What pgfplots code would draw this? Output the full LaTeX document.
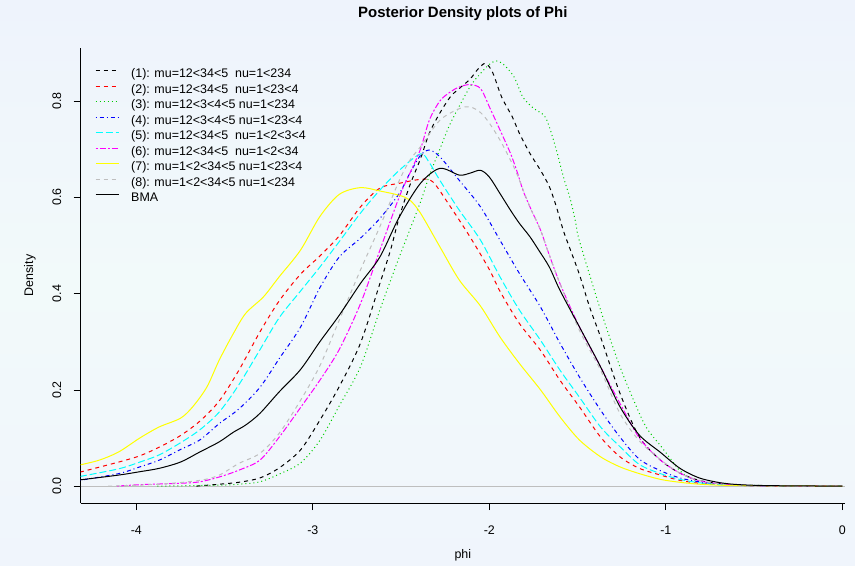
\documentclass[border=0pt]{standalone}
\usepackage{fontspec}
\setmainfont{Liberation Sans}
\usepackage{pgfplots}
\pgfplotsset{compat=1.18}

\definecolor{rgreen}{RGB}{0,205,0}
\definecolor{rgray}{RGB}{190,190,190}
\definecolor{rred}{RGB}{255,0,0}
\definecolor{rblue}{RGB}{0,0,255}
\definecolor{rcyan}{RGB}{0,255,255}
\definecolor{rmagenta}{RGB}{255,0,255}
\definecolor{ryellow}{RGB}{255,255,0}
\definecolor{bgtop}{RGB}{238,243,252}
\definecolor{bgmid}{RGB}{242,250,250}
\definecolor{bgbot}{RGB}{240,245,252}

\begin{document}
\begin{tikzpicture}
% page background, 855 x 566 bp, axis box at (0,0)
\shade[top color=bgtop, bottom color=bgbot, middle color=bgmid]
  (-80.7bp,-63bp) rectangle (774.3bp,503bp);
\begin{axis}[
  at={(0,0)}, anchor=south west,
  scale only axis, width=764.3bp, height=455bp,
  xmin=-4.315, xmax=0.015, ymin=-0.035, ymax=0.91,
  axis lines=left,
  axis line style={-, line width=0.7bp},
  tick align=outside, major tick length=7bp,
  tick style={black, line width=0.7bp},
  xtick={-4,-3,-2,-1,0},
  ytick={0,0.2,0.4,0.6,0.8},
  font=\fontsize{12.5}{15}\selectfont,
  /pgf/number format/assume math mode=true,
  xticklabel shift=12bp,
  yticklabel shift=9bp,
  yticklabel style={rotate=90, anchor=south,
    /pgf/number format/.cd, fixed, fixed zerofill, precision=1},
  title={Posterior Density plots of Phi},
  title style={at={(axis description cs:0.5,1.0615)}, anchor=center,
    font=\fontsize{15}{18}\selectfont\bfseries},
  xlabel={phi},
  xlabel style={at={(axis description cs:0.5,-0.114)}, anchor=center},
  ylabel={Density},
  ylabel style={at={(axis description cs:-0.0663,0.5)}, anchor=center},
  legend image code/.code={\draw[#1] (0bp,3.7bp) -- (23bp,3.7bp);},
  legend style={at={(axis description cs:0,1)}, anchor=north west,
    xshift=14.3bp, yshift=-20.5bp, draw=none, fill=none, inner sep=0pt,
    row sep=3.5bp, column sep=12bp,
    nodes={inner sep=0pt, text height=9bp, text depth=3bp},
    font=\fontsize{12.5}{15}\selectfont},
  legend cell align=left,
  every axis plot/.append style={line width=1bp, smooth},
]
% zero line
\addplot[rgray, line width=0.8bp, forget plot, sharp plot] coordinates {(-4.315,0) (0.015,0)};

% (1)
\addplot[black, dash pattern=on 4bp off 4bp] coordinates {
(-3.66,0) (-3.53,0.004) (-3.42,0.008) (-3.30,0.017) (-3.19,0.038) (-3.07,0.075)
(-2.96,0.137) (-2.85,0.207) (-2.73,0.297) (-2.62,0.421) (-2.56,0.49) (-2.51,0.559)
(-2.45,0.625) (-2.39,0.68) (-2.34,0.733) (-2.28,0.775) (-2.22,0.809) (-2.17,0.826)
(-2.11,0.845) (-2.06,0.868) (-2.02,0.878) (-1.98,0.858) (-1.93,0.808) (-1.87,0.767)
(-1.83,0.733) (-1.77,0.691) (-1.71,0.656) (-1.66,0.622) (-1.62,0.58) (-1.58,0.53)
(-1.54,0.49) (-1.49,0.44) (-1.43,0.37) (-1.37,0.31) (-1.26,0.193) (-1.15,0.102)
(-1.03,0.054) (-0.92,0.027) (-0.81,0.012) (-0.69,0.005) (-0.5,0.001) (0,0)};
\addlegendentry{(1): mu=12<34<5\ \ nu=1<234}

% (2)
\addplot[rred, dash pattern=on 4bp off 4bp] coordinates {
(-4.32,0.029) (-4.10,0.05) (-3.98,0.063) (-3.87,0.081) (-3.75,0.105) (-3.64,0.135)
(-3.53,0.177) (-3.42,0.24) (-3.30,0.32) (-3.19,0.385) (-3.07,0.44) (-2.96,0.478)
(-2.85,0.52) (-2.73,0.58) (-2.62,0.619) (-2.51,0.629) (-2.39,0.637) (-2.32,0.632)
(-2.22,0.58) (-2.11,0.518) (-2.0,0.45) (-1.94,0.405) (-1.83,0.338) (-1.71,0.282)
(-1.60,0.22) (-1.49,0.165) (-1.37,0.102) (-1.26,0.061) (-1.15,0.037) (-1.03,0.023)
(-0.92,0.012) (-0.81,0.006) (-0.69,0.003) (-0.5,0.001) (0,0)};
\addlegendentry{(2): mu=12<34<5\ \ nu=1<23<4}

% (3)
\addplot[rgreen, dash pattern=on 1bp off 3bp] coordinates {
(-3.88,0) (-3.53,0.002) (-3.42,0.004) (-3.30,0.009) (-3.19,0.025) (-3.07,0.048)
(-2.96,0.095) (-2.85,0.167) (-2.73,0.248) (-2.62,0.366) (-2.51,0.476) (-2.39,0.59)
(-2.34,0.645) (-2.28,0.70) (-2.22,0.754) (-2.11,0.829) (-2.05,0.857) (-2.0,0.876)
(-1.96,0.883) (-1.92,0.876) (-1.86,0.85) (-1.81,0.808) (-1.75,0.785) (-1.69,0.77)
(-1.66,0.746) (-1.62,0.698) (-1.58,0.642) (-1.54,0.594) (-1.51,0.546) (-1.49,0.51)
(-1.37,0.366) (-1.26,0.248) (-1.15,0.151) (-1.10,0.116) (-1.03,0.084) (-0.97,0.055)
(-0.92,0.032) (-0.86,0.016) (-0.76,0.006) (-0.6,0.002) (0,0)};
\addlegendentry{(3): mu=12<3<4<5 nu=1<234}

% (4)
\addplot[rblue, dash pattern=on 1bp off 3bp on 4bp off 3bp] coordinates {
(-4.32,0.012) (-4.10,0.026) (-3.98,0.04) (-3.87,0.054) (-3.75,0.076) (-3.64,0.096)
(-3.53,0.13) (-3.42,0.16) (-3.30,0.205) (-3.19,0.265) (-3.07,0.33) (-2.96,0.412)
(-2.85,0.476) (-2.73,0.515) (-2.62,0.556) (-2.51,0.608) (-2.45,0.65) (-2.39,0.687)
(-2.34,0.698) (-2.28,0.684) (-2.17,0.635) (-2.05,0.58) (-1.94,0.511) (-1.83,0.442)
(-1.71,0.372) (-1.60,0.297) (-1.49,0.227) (-1.37,0.158) (-1.26,0.102) (-1.15,0.056)
(-1.03,0.032) (-0.92,0.017) (-0.81,0.009) (-0.69,0.004) (-0.5,0.001) (0,0)};
\addlegendentry{(4): mu=12<3<4<5 nu=1<23<4}

% (5)
\addplot[rcyan, dash pattern=on 7bp off 3bp] coordinates {
(-4.32,0.02) (-4.10,0.036) (-3.98,0.05) (-3.87,0.065) (-3.75,0.09) (-3.64,0.117)
(-3.53,0.154) (-3.42,0.21) (-3.30,0.283) (-3.19,0.35) (-3.07,0.405) (-2.96,0.455)
(-2.85,0.508) (-2.73,0.567) (-2.62,0.615) (-2.51,0.656) (-2.39,0.69) (-2.34,0.672)
(-2.28,0.635) (-2.17,0.573) (-2.05,0.511) (-1.94,0.435) (-1.83,0.366) (-1.71,0.303)
(-1.60,0.241) (-1.49,0.185) (-1.37,0.123) (-1.26,0.082) (-1.15,0.045) (-1.03,0.026)
(-0.92,0.014) (-0.81,0.007) (-0.69,0.003) (-0.5,0.001) (0,0)};
\addlegendentry{(5): mu=12<34<5\ \ nu=1<2<3<4}

% (6)
\addplot[rmagenta, dash pattern=on 2bp off 2bp on 6bp off 2bp] coordinates {
(-4.11,0) (-3.98,0.003) (-3.75,0.006) (-3.64,0.009) (-3.53,0.019) (-3.42,0.033)
(-3.30,0.054) (-3.19,0.102) (-3.07,0.163) (-2.96,0.22) (-2.85,0.284) (-2.73,0.379)
(-2.62,0.49) (-2.51,0.601) (-2.45,0.65) (-2.39,0.70) (-2.34,0.76) (-2.28,0.80)
(-2.22,0.819) (-2.17,0.829) (-2.11,0.834) (-2.05,0.826) (-2.0,0.788) (-1.94,0.74)
(-1.88,0.691) (-1.84,0.65) (-1.81,0.615) (-1.77,0.58) (-1.71,0.532) (-1.67,0.49)
(-1.60,0.421) (-1.49,0.331) (-1.37,0.248) (-1.26,0.172) (-1.15,0.100) (-1.03,0.054)
(-0.92,0.027) (-0.81,0.011) (-0.69,0.005) (-0.5,0.001) (0,0)};
\addlegendentry{(6): mu=12<34<5\ \ nu=1<2<34}

% (7)
\addplot[ryellow] coordinates {
(-4.32,0.044) (-4.21,0.054) (-4.10,0.071) (-3.98,0.10) (-3.87,0.123) (-3.75,0.141)
(-3.68,0.165) (-3.60,0.206) (-3.53,0.262) (-3.45,0.317) (-3.38,0.359) (-3.28,0.393)
(-3.19,0.435) (-3.07,0.49) (-2.96,0.56) (-2.85,0.606) (-2.73,0.62) (-2.62,0.613)
(-2.51,0.604) (-2.45,0.594) (-2.39,0.567) (-2.28,0.497) (-2.17,0.428) (-2.05,0.374)
(-1.94,0.31) (-1.83,0.255) (-1.71,0.2) (-1.60,0.144) (-1.49,0.096) (-1.37,0.061)
(-1.26,0.04) (-1.15,0.026) (-1.03,0.014) (-0.92,0.008) (-0.81,0.004) (-0.69,0.002)
(-0.5,0.001) (0,0)};
\addlegendentry{(7): mu=1<2<34<5 nu=1<23<4}

% (8)
\addplot[rgray, dash pattern=on 4bp off 4bp] coordinates {
(-4.16,0) (-3.87,0.004) (-3.64,0.012) (-3.53,0.023) (-3.42,0.047) (-3.30,0.068)
(-3.19,0.11) (-3.07,0.178) (-2.96,0.25) (-2.85,0.345) (-2.73,0.449) (-2.62,0.539)
(-2.51,0.635) (-2.45,0.677) (-2.39,0.705) (-2.28,0.76) (-2.17,0.784) (-2.11,0.788)
(-2.05,0.776) (-2.0,0.754) (-1.94,0.719) (-1.88,0.677) (-1.84,0.645) (-1.77,0.58)
(-1.71,0.532) (-1.67,0.49) (-1.60,0.421) (-1.49,0.324) (-1.37,0.241) (-1.26,0.151)
(-1.15,0.094) (-1.03,0.055) (-0.92,0.027) (-0.81,0.012) (-0.69,0.005) (-0.5,0.001) (0,0)};
\addlegendentry{(8): mu=1<2<34<5 nu=1<234}

% BMA
\addplot[black] coordinates {
(-4.32,0.013) (-4.10,0.023) (-3.98,0.03) (-3.87,0.037) (-3.75,0.05) (-3.64,0.071)
(-3.53,0.092) (-3.45,0.112) (-3.38,0.127) (-3.30,0.151) (-3.19,0.196) (-3.07,0.242)
(-2.96,0.30) (-2.85,0.355) (-2.73,0.421) (-2.62,0.476) (-2.51,0.559) (-2.39,0.629)
(-2.28,0.66) (-2.17,0.646) (-2.11,0.65) (-2.05,0.656) (-2.0,0.642) (-1.94,0.608)
(-1.88,0.573) (-1.83,0.546) (-1.77,0.518) (-1.72,0.49) (-1.66,0.455) (-1.60,0.407)
(-1.49,0.331) (-1.37,0.248) (-1.26,0.165) (-1.15,0.106) (-1.03,0.07) (-0.92,0.037)
(-0.81,0.017) (-0.69,0.007) (-0.58,0.003) (-0.4,0.001) (0,0)};
\addlegendentry{BMA}
\end{axis}
\end{tikzpicture}
\end{document}
